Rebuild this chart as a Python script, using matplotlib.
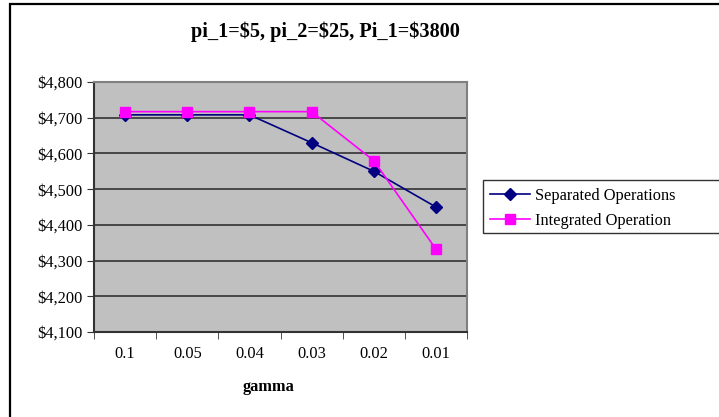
import matplotlib
matplotlib.use("Agg")
from matplotlib import pyplot as plt
from matplotlib.patches import Rectangle
from matplotlib.ticker import FuncFormatter, FixedLocator

plt.rcParams['font.family'] = ['Liberation Serif', 'DejaVu Serif']

# data
gamma = ["0.1", "0.05", "0.04", "0.03", "0.02", "0.01"]
separated = [4708, 4708, 4708, 4630, 4550, 4450]
integrated = [4717, 4717, 4717, 4717, 4580, 4332]

fig = plt.figure(figsize=(7.19, 4.17), dpi=100)
W, H = 719, 417

# outer frame (cropped on right and bottom like the original)
fig.patches.append(Rectangle((9.5 / W, -0.1), 1.2, 1 - 4 / H + 0.1,
                             transform=fig.transFigure, fill=False,
                             edgecolor="black", linewidth=1.6))

ax = fig.add_axes([94 / W, 1 - 332 / H, (467 - 94) / W, (332 - 82) / H])
ax.set_facecolor("#C0C0C0")

x = range(len(gamma))
ax.plot(x, separated, color="#000080", marker="D", markersize=6,
        linewidth=1.2, label="Separated Operations")
ax.plot(x, integrated, color="#FF00FF", marker="s", markersize=7,
        linewidth=1.2, label="Integrated Operation")

ax.set_xlim(-0.5, len(gamma) - 0.5)
ax.set_ylim(4100, 4800)
ax.set_yticks(range(4100, 4801, 100))
ax.yaxis.set_major_formatter(FuncFormatter(lambda v, p: "${:,.0f}".format(v)))
ax.set_xticks(list(x))
ax.set_xticklabels(gamma)
ax.xaxis.set_minor_locator(FixedLocator([i - 0.5 for i in range(len(gamma) + 1)]))
ax.tick_params(axis="x", which="major", length=0, pad=10, labelsize=11.8)
ax.tick_params(axis="x", which="minor", length=5, color="#333333")
ax.tick_params(axis="y", length=5, color="#333333", labelsize=11.8, pad=3)

ax.grid(axis="y", color="#333333", linewidth=1.2)
ax.set_axisbelow(True)
for side in ["top", "right"]:
    ax.spines[side].set_color("#808080")
    ax.spines[side].set_linewidth(1.5)
for side in ["left", "bottom"]:
    ax.spines[side].set_color("#333333")
    ax.spines[side].set_linewidth(1.5)

fig.text(325 / W, 1 - 32 / H, "pi_1=$5, pi_2=$25, Pi_1=$3800",
         ha="center", va="center", fontsize=14.6, fontweight="bold")
fig.text(269 / W, 1 - 387 / H, "gamma", ha="center", va="center",
         fontsize=11.8, fontweight="bold")

# legend box
fig.patches.append(Rectangle((483 / W, 1 - 233 / H), 0.5, 53 / H,
                             transform=fig.transFigure, fill=False,
                             edgecolor="#333333", linewidth=1.0))
fig.legend(loc="upper left", bbox_to_anchor=(490 / W, 1 - 188 / H),
           frameon=False, fontsize=11.8, handlelength=2.45, handletextpad=0.3,
           labelspacing=0.55, borderaxespad=0, borderpad=0)

plt.savefig("out.png", dpi=100)
